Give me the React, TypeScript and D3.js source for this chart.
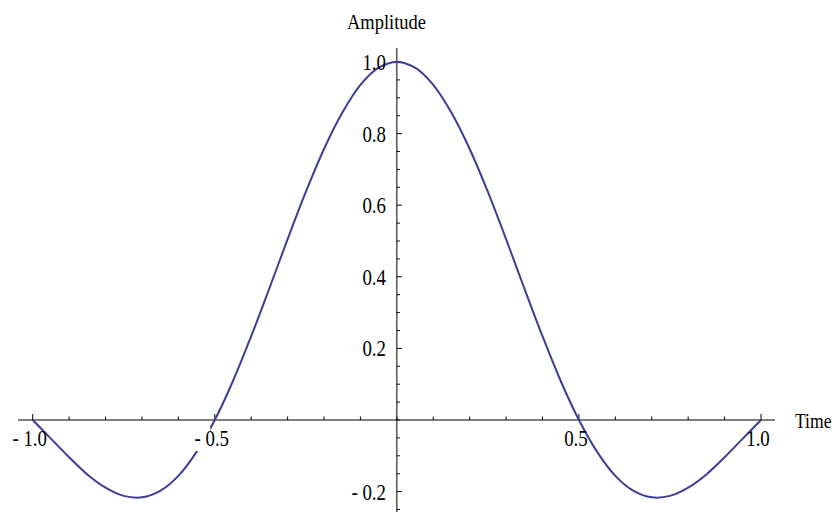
import React from "react";
import * as d3 from "d3";

// Sampled waveform: time (s) and amplitude
const timeValues = [
  -1.0, -0.95, -0.9, -0.85, -0.8, -0.75, -0.7, -0.65, -0.6, -0.55,
  -0.5, -0.45, -0.4, -0.35, -0.3, -0.25, -0.2, -0.15, -0.1, -0.05,
  0.0, 0.05, 0.1, 0.15, 0.2, 0.25, 0.3, 0.35, 0.4, 0.45,
  0.5, 0.55, 0.6, 0.65, 0.7, 0.75, 0.8, 0.85, 0.9, 0.95, 1.0,
];
const amplitudeValues = [
  0.0, -0.052, -0.104, -0.152, -0.189, -0.212, -0.216, -0.198, -0.156, -0.089,
  0.0, 0.109, 0.234, 0.368, 0.505, 0.637, 0.757, 0.858, 0.936, 0.984,
  1.0, 0.984, 0.936, 0.858, 0.757, 0.637, 0.505, 0.368, 0.234, 0.109,
  0.0, -0.089, -0.156, -0.198, -0.216, -0.212, -0.189, -0.152, -0.104, -0.052, 0.0,
];

const xMajorTicks = [-1.0, -0.5, 0.5, 1.0];
const xTickLabels = ["- 1.0", "- 0.5", "0.5", "1.0"];
const yMajorTicks = [-0.2, 0.2, 0.4, 0.6, 0.8, 1.0];
const yTickLabels = ["- 0.2", "0.2", "0.4", "0.6", "0.8", "1.0"];

const W = 837;
const H = 512;
const FONT = "'Liberation Serif', 'Times New Roman', serif";
const CURVE = "#3d3d99";

function Label({ x, y, anchor = "middle", size = 23, sx = 0.82, text }) {
  return (
    <text
      transform={`translate(${x},${y}) scale(${sx},1)`}
      textAnchor={anchor}
      fontFamily={FONT}
      fontSize={size}
      fill="#000"
    >
      {text}
    </text>
  );
}

export default function App() {
  const x = d3.scaleLinear().domain([-1, 1]).range([32.7, 761]);
  const y = d3.scaleLinear().domain([0, 1]).range([420, 62]);

  const pts = timeValues.map((t, i) => [t, amplitudeValues[i]]);
  const line = d3
    .line()
    .x((d) => x(d[0]))
    .y((d) => y(d[1]))
    .curve(d3.curveCatmullRom.alpha(0.5));

  const xMinor = d3.range(-10, 11).map((k) => k / 10);
  const yMinor = d3.range(-5, 21).map((k) => k / 20);
  const x0 = x(0);
  const y0 = y(0);

  return (
    <svg
      width={W}
      height={H}
      style={{ position: "absolute", left: 0, top: 0, background: "#fff" }}
    >
      {/* axes */}
      <line x1={18} x2={775} y1={y0} y2={y0} stroke="#000" strokeWidth={1} />
      <line x1={x0} x2={x0} y1={48} y2={H} stroke="#000" strokeWidth={1} />

      {/* x ticks (upward) */}
      {xMinor.map((t) => {
        const major = Math.abs(t * 2 - Math.round(t * 2)) < 1e-9 && t !== 0;
        return (
          <line
            key={"xt" + t}
            x1={x(t)}
            x2={x(t)}
            y1={y0}
            y2={y0 - (major ? 6 : 3.5)}
            stroke="#000"
            strokeWidth={1}
          />
        );
      })}

      {/* y ticks (rightward) */}
      {yMinor.map((v) => {
        const major = Math.abs(v * 5 - Math.round(v * 5)) < 1e-9 && v !== 0;
        return (
          <line
            key={"yt" + v}
            x1={x0}
            x2={x0 + (major ? 5 : 3)}
            y1={y(v)}
            y2={y(v)}
            stroke="#000"
            strokeWidth={1}
          />
        );
      })}

      {/* waveform */}
      <path d={line(pts)} fill="none" stroke={CURVE} strokeWidth={2} />

      {/* opaque box behind the -0.5 label */}
      <rect x={x(-0.5) - 30} y={427} width={25.5} height={24} fill="#fff" />

      {/* x tick labels */}
      {xMajorTicks.map((t, i) => (
        <Label key={"xl" + t} x={x(t) - 3} y={446} text={xTickLabels[i]} />
      ))}

      {/* y tick labels */}
      {yMajorTicks.map((v, i) => (
        <Label
          key={"yl" + v}
          x={386}
          y={y(v) + 8}
          anchor="end"
          text={yTickLabels[i]}
        />
      ))}

      {/* axis titles */}
      <Label x={347} y={29} anchor="start" size={22} sx={0.84} text="Amplitude" />
      <Label x={795} y={428} anchor="start" size={22} sx={0.8} text="Time" />
    </svg>
  );
}
